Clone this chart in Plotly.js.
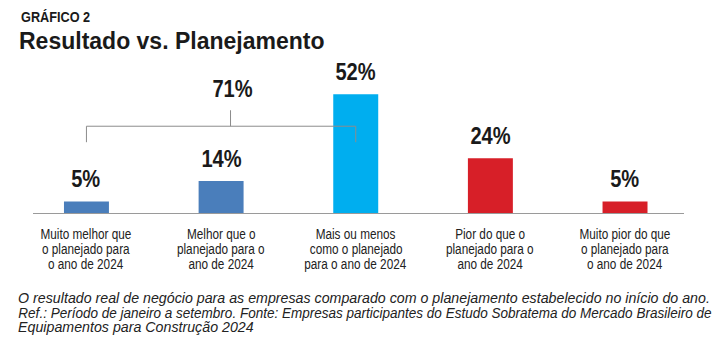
<!DOCTYPE html>
<html>
<head>
<meta charset="utf-8">
<script src="https://cdn.plot.ly/plotly-3.0.1.min.js"></script>
<style>html,body{margin:0;padding:0;background:#fff;}#chart{width:716px;height:359px;}</style>
</head>
<body>
<div id="chart"></div>
<script>
// ---- data ----
const categories = [
  "Muito melhor que<br>o planejado para<br>o ano de 2024",
  "Melhor que o<br>planejado para o<br>ano de 2024",
  "Mais ou menos<br>como o planejado<br>para o ano de 2024",
  "Pior do que o<br>planejado para o<br>ano de 2024",
  "Muito pior do que<br>o planejado para<br>o ano de 2024"
];
const values = [5, 14, 52, 24, 5];
const barColors = ["#4a7ebb", "#4a7ebb", "#00aeef", "#d71f28", "#d71f28"];
const groupedIdx = [0, 1, 2]; // bracketed "better or as planned"
const kicker = "GRÁFICO 2";
const titleText = "Resultado vs. Planejamento";
const footLines = [
  "O resultado real de negócio para as empresas comparado com o planejamento estabelecido no início do ano.",
  "Ref.: Período de janeiro a setembro. Fonte: Empresas participantes do Estudo Sobratema do Mercado Brasileiro de",
  "Equipamentos para Construção 2024"
];

// ---- chart ----
const FONT = "'Liberation Sans', Arial, Helvetica, sans-serif";
const xs = categories.map((_, i) => i);
const groupSum = groupedIdx.reduce((s, i) => s + values[i], 0);

const annotations = [];
const roles = [];
function addAnn(a, role) { annotations.push(a); roles.push(role); }

values.forEach((v, i) => {
  addAnn({x: i, y: v, xref: 'x', yref: 'y', text: v + '%', showarrow: false,
    yanchor: 'middle', yshift: 23,
    font: {family: FONT, size: 24.5, color: '#1a1a1a', weight: 700}}, 'value');
});
categories.forEach((c, i) => {
  c.split('<br>').forEach((line, k) => {
    addAnn({x: i, y: 0, xref: 'x', yref: 'y', text: line, showarrow: false,
      yanchor: 'middle', yshift: -20 - 15.2 * k,
      font: {family: FONT, size: 15.5, color: '#222'}}, 'cat');
  });
});
footLines.forEach((line, k) => {
  addAnn({x: 0, y: 0, xref: 'paper', yref: 'paper', text: '<i>' + line + '</i>', showarrow: false,
    xanchor: 'left', yanchor: 'middle', xshift: -17, yshift: -85 - 14.5 * k,
    font: {family: FONT, size: 14, color: '#222'}}, 'foot' + k);
});
addAnn({x: 0, y: 1, xref: 'paper', yref: 'paper', text: '<b>' + kicker + '</b>', showarrow: false,
  xanchor: 'left', yanchor: 'middle', xshift: -14, yshift: 44,
  font: {family: FONT, size: 15.5, color: '#1a1a1a'}}, 'kicker');

const gL = groupedIdx[0], gR = groupedIdx[groupedIdx.length - 1];
const gMid = 1.07;
const bracketY = 38, tickLow = 31, tickHigh = 45;
addAnn({x: gMid, y: tickHigh, xref: 'x', yref: 'y', text: groupSum + '%', showarrow: false,
  yanchor: 'middle', yshift: 22, xshift: 2,
  font: {family: FONT, size: 24.5, color: '#1a1a1a', weight: 700}}, 'value');

const lineStyle = {color: '#8c8c8c', width: 1};
const shapes = [
  {type: 'line', xref: 'x', yref: 'y', x0: gL, x1: gR, y0: bracketY, y1: bracketY, line: lineStyle},
  {type: 'line', xref: 'x', yref: 'y', x0: gL, x1: gL, y0: tickLow, y1: bracketY, line: lineStyle},
  {type: 'line', xref: 'x', yref: 'y', x0: gR, x1: gR, y0: tickLow, y1: bracketY, line: lineStyle},
  {type: 'line', xref: 'x', yref: 'y', x0: gMid, x1: gMid, y0: bracketY, y1: tickHigh, line: lineStyle}
];

const trace = {
  type: 'bar', x: xs, y: values, width: 0.334,
  marker: {color: barColors, line: {width: 0}},
  hoverinfo: 'skip'
};

const layout = {
  width: 716, height: 359,
  margin: {l: 33, r: 32, t: 60, b: 146},
  paper_bgcolor: '#fff', plot_bgcolor: '#fff',
  showlegend: false,
  title: {text: '<b>' + titleText + '</b>', x: 19 / 716, xanchor: 'left', xref: 'container',
    y: 1 - 41 / 359, yanchor: 'middle', yref: 'container',
    font: {family: FONT, size: 23, color: '#1a1a1a'}},
  xaxis: {range: [-0.397, 4.438], showgrid: false, zeroline: false, showline: true,
    linecolor: '#9a9a9a', linewidth: 1, showticklabels: false, ticks: '', fixedrange: true},
  yaxis: {range: [0, 67], visible: false, showgrid: false, zeroline: false, fixedrange: true},
  annotations: annotations,
  shapes: shapes
};

// horizontal condensing to imitate the condensed typeface of the original
const condense = {value: 0.82, cat: 0.76, kicker: 0.82};
function squeeze(el, k, origin) {
  el.style.transformBox = 'fill-box';
  el.style.transformOrigin = origin;
  el.style.transform = 'scaleX(' + k + ')';
}

Plotly.newPlot('chart', [trace], layout, {displayModeBar: false, staticPlot: true}).then(gd => {
  const texts = {};
  gd.querySelectorAll('.annotation').forEach(g => {
    const idx = +g.getAttribute('data-index');
    const t = g.querySelector('.annotation-text');
    if (t) texts[idx] = t;
  });
  // footnote: lines 0 and 1 are justified to the full text width
  let footScale = 1;
  roles.forEach((r, i) => {
    const t = texts[i];
    if (!t) return;
    if (condense[r]) {
      squeeze(t, condense[r], r === 'kicker' ? 'left center' : 'center');
    } else if (r === 'foot0' || r === 'foot1') {
      const w = t.getBBox().width;
      const target = r === 'foot0' ? 692 : 694;
      const k = target / w;
      if (r === 'foot0') footScale = k;
      squeeze(t, k, 'left center');
    }
  });
  roles.forEach((r, i) => {
    if (r === 'foot2' && texts[i]) squeeze(texts[i], footScale, 'left center');
  });
  const tt = gd.querySelector('.gtitle');
  if (tt) squeeze(tt, 1.0, 'left center');
});
</script>
</body>
</html>
